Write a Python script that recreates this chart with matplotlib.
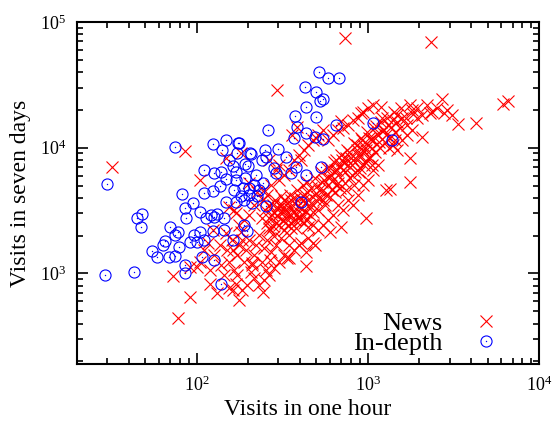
"""Visits in one hour vs visits in seven days, news vs in-depth articles."""

import matplotlib
matplotlib.use("Agg")
import matplotlib.pyplot as plt
from matplotlib.legend_handler import HandlerTuple
from matplotlib.ticker import LogLocator, NullFormatter

plt.rcParams["font.family"] = ["Liberation Serif", "DejaVu Serif"]
plt.rcParams["mathtext.fontset"] = "custom"
plt.rcParams["mathtext.rm"] = "Liberation Serif"
plt.rcParams["mathtext.it"] = "Liberation Serif:italic"

# News articles: (visits in one hour, visits in seven days)
NEWS_HOUR = [
    32, 86, 294, 737, 2344, 2713, 6170, 6600, 3357, 4270,
    1772, 1340, 974, 699, 603, 481, 433, 433, 345, 254,
    73, 92, 78, 131, 177, 155, 170, 210, 100, 116,
    124, 149, 182, 384, 1772, 2079, 2313, 2790, 1190, 910,
    700, 1270, 450, 488, 335, 267, 210, 405, 104, 155,
    170, 149, 162, 185, 91, 119, 362, 496, 405, 290,
    202,
    # main band, lower edge
    104, 111, 119, 127, 136, 139, 145, 151, 155, 160,
    166, 172, 177, 182, 189, 194, 202, 208, 216, 222,
    231, 240, 247, 257, 264, 271, 282, 290, 302, 310,
    322, 331, 345, 354, 368, 378, 394, 405, 421, 433,
    450, 462, 481, 494, 514, 528, 549, 564, 587, 603,
    628, 645, 671, 689, 717, 737, 766, 787, 819, 841,
    875, 899, 935, 960, 1000, 1027, 1069, 1098, 1142, 1173,
    1221, 1254, 1305, 1340, 1395, 1450, 1490, 1550, 1593, 1703,
    1820, 1945,
    # main band, upper edge
    240, 250, 264, 275, 286, 298, 310, 318, 335, 349,
    362, 384, 400, 416, 427, 444, 468, 488, 507, 535,
    556, 580, 611, 636, 662, 699, 727, 756, 798, 830,
    864, 910, 948, 987, 1041, 1083, 1127, 1190, 1237, 1288,
    1358, 1413, 1490, 1572, 1680, 1772, 1844, 1945, 2079, 2222,
    2375, 2539, 2900, 3100, 1395, 1490, 1593, 1703, 1820, 1069,
    1000, 1142, 935, 875, 819, 766, 717, 671, 628, 587,
    549, 514, 481, 450, 394, 368, 345, 322, 302, 282,
    264, 247, 231, 216, 197, 185, 172, 162, 244,
    # mixed with in-depth
    202, 216, 189, 177, 166, 225, 247, 271, 302, 322,
    345, 368, 394, 421, 450, 481, 514, 549, 587, 628,
    671, 717, 766, 819, 875, 935, 1000, 1069, 264, 302,
    # dense core
    257, 279, 294, 318, 326, 340, 358, 373, 389, 410,
    427, 302, 282, 264, 322, 354, 603, 654, 689, 746,
    808, 864, 899, 948, 1000, 1055, 654, 746, 830, 549,
    244, 257, 267, 279, 290, 306, 314, 326, 335, 349,
    358, 373, 384, 400, 416, 433, 444, 456, 475, 500,
    521, 542, 573, 595, 620, 645, 671, 708, 737, 776,
    808, 864, 887, 922, 974, 1013, 1055, 1112, 1157, 1205,
    1270, 1322, 1432,
]
NEWS_WEEK = [
    7000, 9330, 28700, 74700, 69400, 24300, 22200, 23500, 15400, 15700,
    5300, 4680, 2750, 2320, 2120, 1740, 1470, 1140, 1320, 1060,
    946, 644, 446, 693, 620, 760, 830, 1200, 1120, 1740,
    2200, 8250, 9030, 14500, 8250, 12100, 18900, 18900, 21000, 18900,
    16300, 4590, 2320, 1670, 1320, 1270, 1160, 1760, 5510, 3360,
    3000, 2090, 1525, 1830, 1120, 830, 12600, 11900, 7950, 6620,
    5210,
    1225, 1525, 1060, 1390, 1670, 1160, 964, 1525, 1225, 1830,
    1060, 1390, 1670, 2120, 1225, 1525, 1830, 1020, 1390, 1670,
    2010, 1225, 1580, 1830, 2280, 1470, 1970, 1670, 2410, 1900,
    2200, 2750, 2010, 2540, 3060, 2280, 2750, 3300, 2540, 3060,
    3820, 2900, 3490, 4190, 3180, 3970, 4590, 3490, 5030, 4040,
    5510, 4420, 6040, 4760, 6620, 5210, 7250, 5710, 7950, 6400,
    8710, 6860, 9550, 7660, 10500, 8250, 11500, 9200, 12600, 10000,
    13800, 11000, 15100, 12000, 16600, 13300, 18200, 14300, 17200, 15100,
    19900, 17200,
    2750, 3180, 3490, 2900, 3820, 3300, 4120, 3060, 3620, 4190,
    3490, 4590, 3970, 5030, 4190, 5310, 4760, 5710, 4930, 6400,
    5510, 6860, 6040, 7660, 6620, 8710, 7520, 9550, 8250, 10900,
    9550, 11900, 10300, 13300, 11700, 14300, 12800, 15900, 13800, 17200,
    14600, 19200, 15900, 20700, 17200, 21800, 18500, 20700, 18200, 21800,
    19200, 20700, 19900, 18200, 10500, 9550, 11500, 12600, 13800, 6620,
    5510, 7250, 5030, 4190, 3490, 3820, 3180, 3490, 2900, 2640,
    2410, 2200, 2410, 1900, 1670, 1525, 1670, 1390, 1225, 1110,
    964, 880, 803, 920, 803, 733, 964, 733, 707,
    2900, 3490, 2640, 2410, 3180, 4420, 4590, 5030, 5510, 6040,
    6620, 7950, 8710, 9550, 10500, 11500, 12600, 13800, 11500, 12600,
    13800, 14300, 15100, 16600, 17200, 19200, 20700, 21800, 7950, 7250,
    2540, 2370, 2850, 2640, 3180, 2410, 2900, 2640, 3420, 2960,
    3620, 3490, 3060, 2750, 3820, 3820, 6860, 7950, 7120, 8250,
    7250, 7950, 8710, 7250, 8250, 7250, 5030, 4590, 5030, 3820,
    3820, 4190, 2200, 3490, 2540, 3060, 3490, 2540, 2960, 3250,
    2280, 3970, 2960, 2640, 3820, 2640, 4420, 3490, 3060, 3820,
    4590, 5310, 4190, 5710, 4590, 6620, 5210, 7950, 6400, 9200,
    6040, 10500, 6400, 11500, 9550, 12000, 10000, 14800, 11000, 17200,
    12600, 10000, 11500,
]

# In-depth articles
INDEPTH_HOUR = [
    520, 587, 680, 427, 500, 549, 528, 433, 373, 500,
    260, 388, 655, 1069, 433, 368, 488, 549, 1375, 298,
    250, 208, 254, 240, 331, 177, 192, 282, 378, 535,
    358, 290, 222, 438, 75, 125, 149, 175, 141, 172,
    205, 111, 127, 139, 170, 200, 30, 82, 45, 48,
    47, 70, 85, 95, 87, 104, 111, 124, 149, 170,
    192, 136, 166, 186, 149, 170, 189, 127, 114, 145,
    78, 75, 65, 64, 104, 97, 91, 100, 111, 79,
    55, 59, 69, 75, 108, 127, 85, 86, 29, 43,
    139, 164, 189, 197, 405, 210, 254, 122, 131, 125,
    216, 231, 202, 225, 244, 202, 182, 145, 155, 162,
]
INDEPTH_WEEK = [
    40000, 35800, 35800, 30300, 27700, 24300, 23500, 21000, 17800, 17500,
    13800, 14500, 15100, 15700, 13100, 12000, 12100, 11700, 11500, 9800,
    9550, 8880, 8400, 7950, 8400, 10800, 7400, 6860, 7000, 7000,
    6250, 6250, 6040, 6040, 10100, 10700, 11500, 10800, 9550, 9030,
    9030, 6620, 6250, 6400, 6400, 7100, 5100, 4270, 2750, 2960,
    2320, 2320, 3300, 3620, 2750, 3060, 4400, 4500, 5600, 5510,
    5700, 4930, 4590, 4760, 3680, 3680, 3820, 2800, 2750, 2750,
    2120, 2010, 1800, 1670, 2120, 2010, 1770, 1770, 1830, 1610,
    1500, 1340, 1340, 1365, 1340, 1270, 1160, 1000, 980, 1020,
    830, 1860, 2410, 2160, 3680, 3620, 3420, 2900, 2960, 2160,
    5030, 4590, 4760, 4120, 5210, 4190, 4120, 2200, 7950, 7100,
]

W, H = 554, 421
fig = plt.figure(figsize=(W / 100, H / 100), dpi=100)
ax = fig.add_axes([0.139, 0.135, 0.834, 0.813])

news, = ax.plot(NEWS_HOUR, NEWS_WEEK, ls="none", marker="x", ms=9.2,
                mew=0.8, color="#ff0000")
circ, = ax.plot(INDEPTH_HOUR, INDEPTH_WEEK, ls="none", marker="o", ms=8,
                mew=0.8, mfc="none", mec="#0000ff")
dot, = ax.plot(INDEPTH_HOUR, INDEPTH_WEEK, ls="none", marker="o", ms=1,
               mew=0, color="#0000ff")

ax.set_xscale("log")
ax.set_yscale("log")
ax.set_xlim(20, 1e4)
ax.set_ylim(190, 1e5)

for axis in (ax.xaxis, ax.yaxis):
    axis.set_major_locator(LogLocator(base=10, numticks=10))
    axis.set_minor_locator(LogLocator(base=10, subs=range(2, 10), numticks=10))
    axis.set_minor_formatter(NullFormatter())
ax.tick_params(which="both", direction="in", top=True, right=True,
               labelsize=13, width=1.2)
ax.tick_params(which="major", length=8, pad=8)
ax.tick_params(which="minor", length=4.5)
for sp in ax.spines.values():
    sp.set_linewidth(1.5)

ax.set_xlabel("Visits in one hour", fontsize=17, labelpad=3)
ax.set_ylabel("Visits in seven days", fontsize=17, labelpad=6)

ax.legend([news, (circ, dot)], ["News", "In-depth"],
          handler_map={tuple: HandlerTuple(ndivide=1)},
          loc="lower right", bbox_to_anchor=(0.963, -0.02),
          markerfirst=False, frameon=False, fontsize=19,
          labelspacing=-0.13, handlelength=1.5, handletextpad=0.9,
          borderaxespad=0.2)

fig.savefig("out.png", dpi=100)
